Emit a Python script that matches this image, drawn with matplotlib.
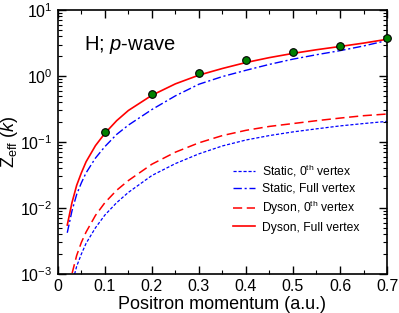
import numpy as np
import matplotlib
matplotlib.use('Agg')
import matplotlib.pyplot as plt
from matplotlib.ticker import LogLocator, MultipleLocator, NullFormatter, FormatStrFormatter

plt.rcParams['font.family'] = ['Liberation Sans', 'DejaVu Sans']
plt.rcParams['mathtext.fontset'] = 'custom'
plt.rcParams['mathtext.rm'] = 'Liberation Sans'
plt.rcParams['mathtext.it'] = 'Liberation Sans:italic'

# Positron momentum grid (a.u.)
k = [0.02, 0.03, 0.04, 0.05, 0.06, 0.08, 0.1, 0.125, 0.15, 0.2,
     0.25, 0.3, 0.35, 0.4, 0.45, 0.5, 0.55, 0.6, 0.65, 0.7]

# Static, 0th vertex (first point hidden below axis)
static_0th = [0.0003, 0.0007, 0.0013, 0.002, 0.0029, 0.005, 0.0078, 0.012, 0.0172, 0.031,
              0.047, 0.066, 0.087, 0.107, 0.125, 0.142, 0.158, 0.175, 0.19, 0.205]
# Static, full vertex
static_full = [0.0042, 0.009, 0.016, 0.024, 0.034, 0.057, 0.085, 0.13, 0.18, 0.31,
               0.5, 0.75, 0.98, 1.22, 1.5, 1.8, 2.1, 2.42, 2.85, 3.45]
# Dyson, 0th vertex
dyson_0th = [0.0004, 0.001, 0.0019, 0.003, 0.0043, 0.0077, 0.012, 0.0185, 0.026, 0.046,
             0.07, 0.097, 0.125, 0.15, 0.172, 0.19, 0.21, 0.23, 0.25, 0.265]
# Dyson, full vertex
dyson_full = [0.0055, 0.012, 0.022, 0.034, 0.05, 0.088, 0.135, 0.21, 0.3, 0.51,
              0.76, 1.03, 1.3, 1.6, 1.9, 2.2, 2.5, 2.8, 3.15, 3.6]

# reference points (green circles)
k_pts = [0.1, 0.2, 0.3, 0.4, 0.5, 0.6, 0.7]
z_pts = [0.14, 0.54, 1.11, 1.75, 2.3, 2.85, 3.8]

fig = plt.figure(figsize=(3.99, 3.13), dpi=100)
ax = fig.add_axes([0.145, 0.125, 0.825, 0.843])

ax.plot(k, static_0th, color='blue', lw=0.9, ls=(0, (2.5, 1.5)), label='Static, 0$^{\\rm th}$ vertex')
ax.plot(k, static_full, color='blue', lw=1.0, ls=(0, (6, 2, 1.5, 2)), label='Static, Full vertex')
ax.plot(k, dyson_0th, color='red', lw=1.1, ls=(0, (6, 3)), label='Dyson, 0$^{\\rm th}$ vertex')
ax.plot(k, dyson_full, color='red', lw=1.2, label='Dyson, Full vertex')
ax.plot(k_pts, z_pts, 'o', ms=5.5, mfc='#008000', mec='black', mew=0.8, zorder=5, clip_on=False)

ax.set_yscale('log')
ax.set_xlim(0, 0.7)
ax.set_ylim(1e-3, 10)
ax.xaxis.set_major_locator(MultipleLocator(0.1))
ax.xaxis.set_minor_locator(MultipleLocator(0.05))
ax.xaxis.set_major_formatter(FormatStrFormatter('%g'))
ax.yaxis.set_major_locator(LogLocator(base=10))
ax.yaxis.set_minor_locator(LogLocator(base=10, subs=np.arange(2, 10)))
ax.yaxis.set_minor_formatter(NullFormatter())
ax.tick_params(which='both', direction='in', top=True, right=True, labelsize=11.5)
ax.tick_params(which='major', length=6, width=1, pad=4)
ax.tick_params(which='minor', length=3, width=0.8)
for s in ax.spines.values():
    s.set_linewidth(1.2)

ax.set_xlabel('Positron momentum (a.u.)', fontsize=13, labelpad=1)
ax.set_ylabel('Z$_{\\rm eff}$ ($\\it{k}$)', fontsize=13, labelpad=0)
ax.text(0.08, 0.85, 'H; $\\it{p}$-wave', transform=ax.transAxes, fontsize=14.5)

ax.legend(loc='lower right', bbox_to_anchor=(0.935, 0.13), frameon=False, fontsize=8.7,
          handlelength=1.8, handletextpad=0.6, labelspacing=0.35, borderpad=0)

fig.savefig('out.png', dpi=100)
